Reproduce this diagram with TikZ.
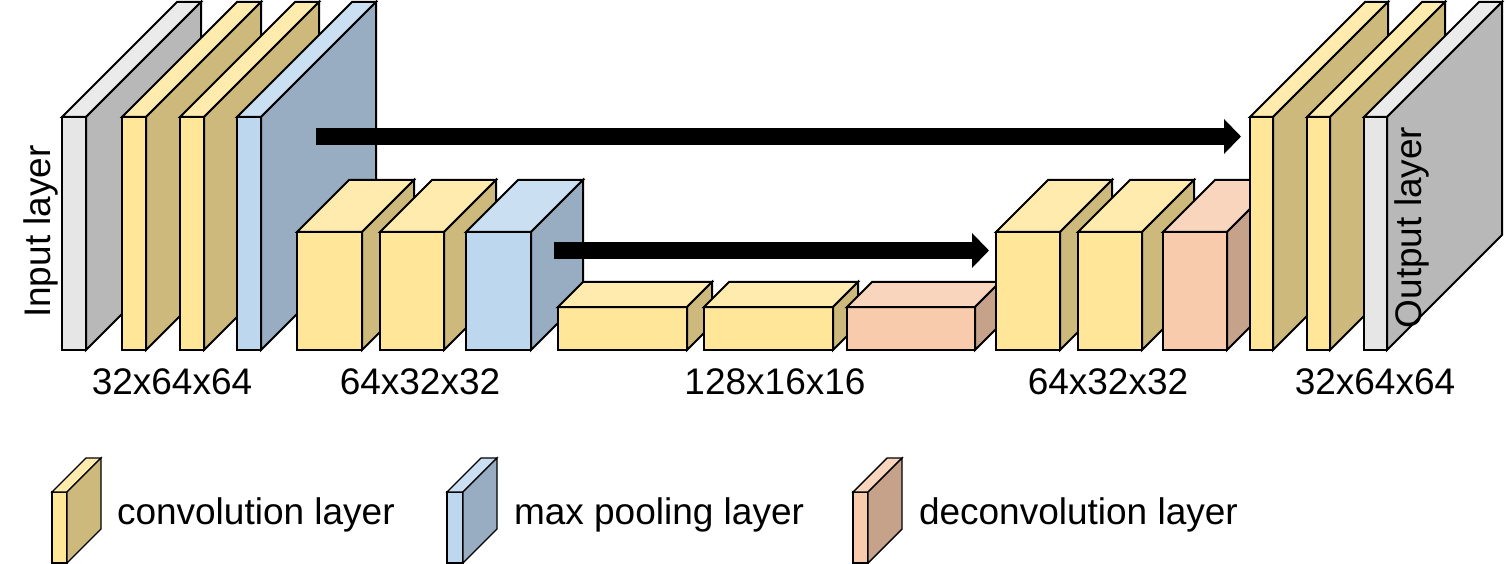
\documentclass[tikz,border=0pt]{standalone}
\usepackage{fontspec}
\setmainfont{Liberation Sans}
\usepackage{tikz}
\usetikzlibrary{arrows.meta,positioning}
\definecolor{convfront}{HTML}{FFE699}
\definecolor{convtop}{HTML}{FFEBAD}
\definecolor{convside}{HTML}{CDB97B}
\definecolor{poolfront}{HTML}{BDD7EE}
\definecolor{pooltop}{HTML}{CADFF1}
\definecolor{poolside}{HTML}{98ADC1}
\definecolor{deconvfront}{HTML}{F8CBAD}
\definecolor{deconvtop}{HTML}{F9D5BD}
\definecolor{deconvside}{HTML}{C7A28A}
\definecolor{iofront}{HTML}{E6E6E6}
\definecolor{iotop}{HTML}{EBEBEB}
\definecolor{ioside}{HTML}{B8B8B8}
\tikzset{
  face/.style={draw=black, inner sep=0pt, outer sep=0pt},
  facet/.style={draw=black, line join=miter},
  dimlabel/.style={font=\fontsize{37}{44}\selectfont, inner sep=0pt, anchor=base},
  sidelabel/.style={dimlabel, rotate=90},
  legtext/.style={font=\fontsize{37}{44}\selectfont, inner sep=0pt, anchor=base west},
  skip/.style={-{Triangle[length=17pt,width=34pt]}, line width=17pt, draw=black}
}
% name, kind, x, y (top), width, height, depth
\newcommand{\layerblock}[7]{%
  \node[face, fill=#2front, minimum width=#5pt, minimum height=#6pt, anchor=north west] (#1) at (#3,#4) {};
  \draw[facet, fill=#2top] (#1.north west) -- ++(#7,-#7) -- ++(#5,0) -- (#1.north east) -- cycle;
  \draw[facet, fill=#2side] (#1.north east) -- ++(#7,-#7) -- ++(0,#6) -- (#1.south east) -- cycle;
}
\begin{document}
\begin{tikzpicture}[x=1pt, y=-1pt, line width=2pt]
  \useasboundingbox (0,0) rectangle (1508,564);
  % encoder
  \layerblock{in}{io}{62}{117}{24}{233}{115}
  \layerblock{c1}{conv}{122}{117}{24}{233}{115}
  \layerblock{c2}{conv}{180}{117}{24}{233}{115}
  \layerblock{p1}{pool}{237}{117}{24}{233}{115}
  \layerblock{c3}{conv}{297}{232}{65}{118}{52}
  \layerblock{c4}{conv}{380}{232}{64}{118}{52}
  \layerblock{p2}{pool}{466}{232}{65}{118}{52}
  % bottom
  \layerblock{c5}{conv}{558}{307}{129}{43}{25}
  \layerblock{c6}{conv}{704}{307}{129}{43}{25}
  \layerblock{d1}{deconv}{847}{307}{128}{43}{25}
  % decoder
  \layerblock{c7}{conv}{996}{232}{64}{118}{52}
  \layerblock{c8}{conv}{1078}{232}{64}{118}{52}
  \layerblock{d2}{deconv}{1163}{232}{64}{118}{52}
  \layerblock{c9}{conv}{1250}{117}{23}{233}{115}
  \layerblock{c10}{conv}{1307}{117}{23}{233}{115}
  \layerblock{out}{io}{1364}{117}{23}{233}{115}

  \coordinate (s1a) at (316,136.5);
  \coordinate (s1b) at (1241,136.5);
  \coordinate (s2a) at (554,250.5);
  \coordinate (s2b) at (989,250.5);
  \draw[skip] (s1a) -- (s1b);
  \draw[skip] (s2a) -- (s2b);

  \node[sidelabel] (inlab) at (50,231.5) {Input layer};
  \node[sidelabel] (outlab) at (1421,227.5) {Output layer};

  \node[dimlabel] (dim1) at (172,394) {32x64x64};
  \node[dimlabel] (dim2) at (420,394) {64x32x32};
  \node[dimlabel] (dim3) at (775,394) {128x16x16};
  \node[dimlabel] (dim4) at (1108,394) {64x32x32};
  \node[dimlabel] (dim5) at (1375,394) {32x64x64};

  % legend
  \begin{scope}[line width=1.4pt]
    \layerblock{lgconv}{conv}{52}{492}{15}{71}{34}
    \layerblock{lgpool}{pool}{447}{492}{16}{71}{34}
    \layerblock{lgdeconv}{deconv}{853}{492}{15}{71}{34}
  \end{scope}
  \node[legtext] (lconv) at (116,524) {convolution layer};
  \node[legtext] (lpool) at (513,524) {max pooling layer};
  \node[legtext] (ldeconv) at (918,524) {deconvolution layer};
\end{tikzpicture}
\end{document}
